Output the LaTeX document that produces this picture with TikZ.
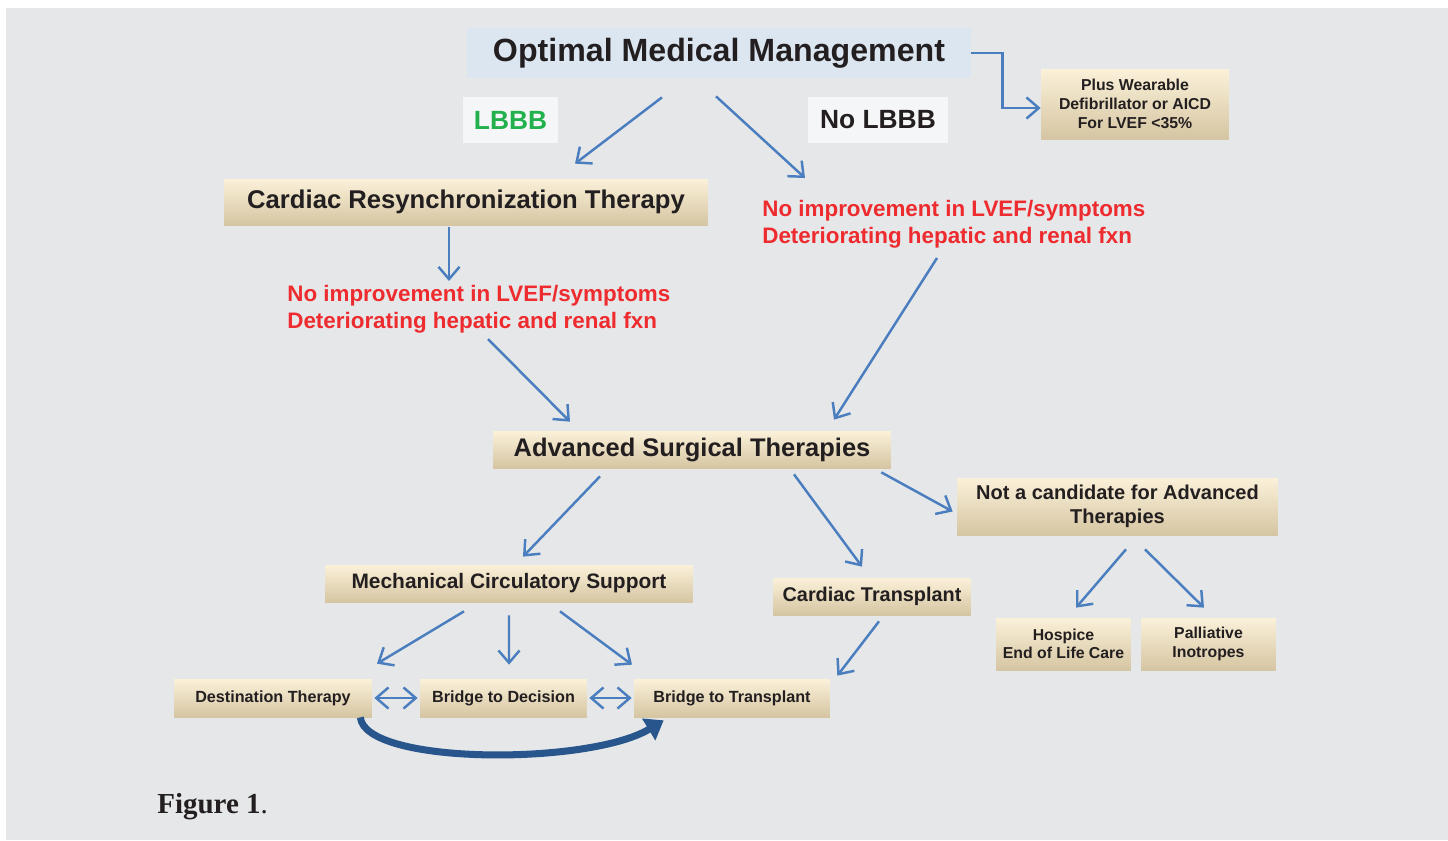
\documentclass[tikz,border=0pt]{standalone}
\usepackage{fontspec}
\setmainfont{Liberation Sans}
\newfontfamily\capfont{Liberation Serif}
\usetikzlibrary{arrows.meta,calc}
\definecolor{panelgrey}{HTML}{E6E7E9}
\definecolor{mgmtblue}{HTML}{DCE6F1}
\definecolor{tagwhite}{HTML}{F5F6F7}
\definecolor{goldtop}{HTML}{FBF1D9}
\definecolor{goldmid}{HTML}{F3E8CD}
\definecolor{goldbot}{HTML}{D5C5A2}
\definecolor{inkdark}{HTML}{231F20}
\definecolor{lbbbgreen}{HTML}{22B14C}
\definecolor{warnred}{HTML}{EE2B2E}
\definecolor{flowblue}{HTML}{4A7EBF}
\definecolor{curvedblue}{HTML}{28568C}
\tikzset{
  stepbox/.style={inner sep=0pt, align=center, text=inkdark,
                  top color=goldtop, middle color=goldmid, bottom color=goldbot},
  tagbox/.style={inner sep=0pt, fill=tagwhite, minimum height=0.92cm,
                 font=\bfseries\fontsize{15}{18}\selectfont},
  warntext/.style={anchor=west, align=left, inner sep=0pt, text=warnred,
                   font=\bfseries\fontsize{12.75}{15.3}\selectfont},
  flow/.style={draw=flowblue, line width=1.4pt, -{Straight Barb[length=7pt,width=12pt]}},
  flowboth/.style={flow, {Straight Barb[length=7pt,width=12pt]}-{Straight Barb[length=7pt,width=12pt]}},
}

\begin{document}
\begin{tikzpicture}[x=0.02cm, y=-0.02cm]
    \fill[white] (0,0) rectangle (1448,840);
    \fill[panelgrey] (6,8) rectangle (1448,840);
    \useasboundingbox (0,0) rectangle (1448,840);

    % top level
    \node[fill=mgmtblue, inner sep=0pt, minimum width=10.08cm, minimum height=1cm,
          text=inkdark, font=\bfseries\fontsize{18.3}{21}\selectfont] (omm) at (719,53) {Optimal Medical Management};
    \node[tagbox, minimum width=1.9cm, text=lbbbgreen] (lbbb) at (510.5,120) {LBBB};
    \node[tagbox, minimum width=2.8cm, text=inkdark] (nolbbb) at (878,120) {No LBBB};
    \node[stepbox, minimum width=3.76cm, minimum height=1.4cm,
          font=\bfseries\fontsize{9}{10.8}\selectfont] (wear) at (1135,104) {Plus Wearable\\Defibrillator or AICD\\For LVEF <35\%};

    % second level
    \node[stepbox, minimum width=9.68cm, minimum height=0.92cm,
          font=\bfseries\fontsize{14.6}{17}\selectfont] (crt) at (466,202) {Cardiac Resynchronization Therapy};
    \node[warntext] (red1) at (762,224) {No improvement in LVEF/symptoms\\Deteriorating hepatic and renal fxn};
    \node[warntext] (red2) at (287,309) {No improvement in LVEF/symptoms\\Deteriorating hepatic and renal fxn};

    % surgical level
    \node[stepbox, minimum width=7.96cm, minimum height=0.74cm,
          font=\bfseries\fontsize{14.5}{17}\selectfont] (ast) at (692,449.5) {Advanced Surgical Therapies};
    \node[stepbox, minimum width=6.42cm, minimum height=1.14cm,
          font=\bfseries\fontsize{11.4}{13.6}\selectfont] (notcand) at (1117.5,506.5) {Not a candidate for Advanced\\Therapies};
    \node[stepbox, minimum width=7.36cm, minimum height=0.74cm,
          font=\bfseries\fontsize{11.9}{14}\selectfont] (mcs) at (509,583.5) {Mechanical Circulatory Support};
    \node[stepbox, minimum width=3.96cm, minimum height=0.74cm,
          font=\bfseries\fontsize{11.3}{13}\selectfont] (ct) at (872,596.5) {Cardiac Transplant};
    \node[stepbox, minimum width=2.7cm, minimum height=1.04cm,
          font=\bfseries\fontsize{9}{10.4}\selectfont] (hospice) at (1063.5,644) {Hospice\\End of Life Care};
    \node[stepbox, minimum width=2.7cm, minimum height=1.04cm,
          font=\bfseries\fontsize{9}{10.4}\selectfont] (palli) at (1208.5,644) {Palliative\\Inotropes};

    % support options
    \node[stepbox, minimum width=3.96cm, minimum height=0.76cm,
          font=\bfseries\fontsize{9.2}{11}\selectfont] (dest) at (273,698) {Destination Therapy};
    \node[stepbox, minimum width=3.34cm, minimum height=0.76cm,
          font=\bfseries\fontsize{9.2}{11}\selectfont] (btd) at (503.5,698) {Bridge to Decision};
    \node[stepbox, minimum width=3.92cm, minimum height=0.76cm,
          font=\bfseries\fontsize{9.2}{11}\selectfont] (btt) at (732,698) {Bridge to Transplant};

    \node[anchor=base west, inner sep=0pt, text=inkdark] (fig) at (157,813)
          {\capfont\fontsize{16.5}{19}\selectfont\textbf{Figure 1}.};

    % connectors
    \draw[flow] ($(omm.south)+(-57,19)$) -- ($(crt.north)+(109,-15)$);
    \draw[flow] ($(omm.south)+(-3,18)$) -- ($(red1.west)+(43,-46)$);
    \draw[flow] (omm.east) -- ++(31,0) |- ($(wear.west)+(0,4)$);
    \draw[flow] ($(crt.south)+(-17,2)$) -- ($(red2.west)+(162,-28)$);
    \draw[flow] ($(red2.west)+(201,30)$) -- ($(ast.north)+(-122,-9)$);
    \draw[flow] ($(red1.west)+(175,34)$) -- ($(ast.north)+(142,-11)$);
    \draw[flow] ($(ast.south)+(-92,8)$) -- ($(mcs.north)+(14,-8)$);
    \draw[flow] ($(ast.south)+(102,6)$) -- ($(ct.north)+(-10,-11)$);
    \draw[flow] ($(ast.south east)+(-10,4)$) -- ($(notcand.west)+(-4,5)$);
    \draw[flow] ($(notcand.south)+(8.5,14)$) -- ($(hospice.north)+(12.5,-10)$);
    \draw[flow] ($(notcand.south)+(27.5,14)$) -- ($(palli.north)+(-4.5,-10)$);
    \draw[flow] ($(mcs.south)+(-45,9)$) -- ($(dest.north)+(104,-15)$);
    \draw[flow] ($(mcs.south)+(0,13)$) -- ($(btd.north)+(5.5,-14)$);
    \draw[flow] ($(mcs.south)+(51,9)$) -- ($(btt.north)+(-100,-14)$);
    \draw[flow] ($(ct.south)+(7,6)$) -- ($(btt.north east)+(7,-3)$);
    \draw[flowboth] ($(dest.east)+(2,0)$) -- ($(btd.west)+(-2,0)$);
    \draw[flowboth] ($(btd.east)+(2,0)$) -- ($(btt.west)+(-2,0)$);
    \draw[curvedblue, line width=4pt, -{Triangle[length=10pt,width=14pt]}]
      ($(dest.south east)+(-12,0)$) .. controls +(5,48) and +(-74,45) .. ($(btt.south west)+(30,3)$);
\end{tikzpicture}
\end{document}
